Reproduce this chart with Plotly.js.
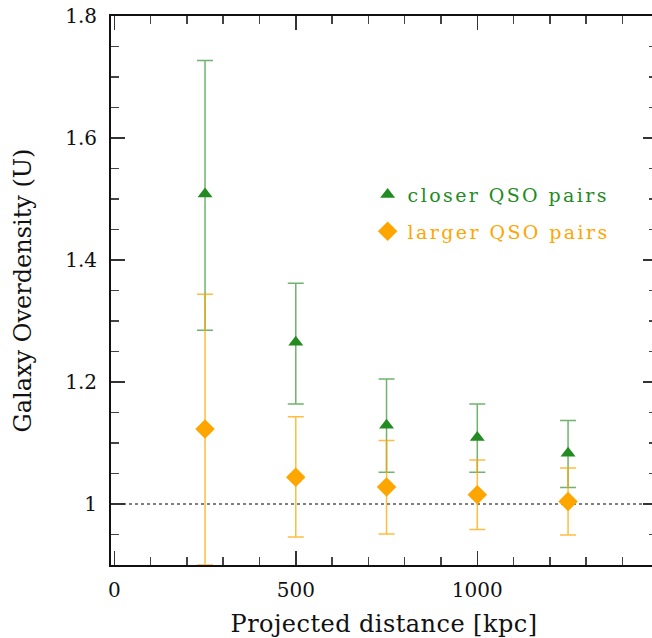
<!DOCTYPE html>
<html><head><meta charset="utf-8">
<script src="https://cdn.plot.ly/plotly-3.0.1.min.js"></script>
<style>html,body{margin:0;padding:0;overflow:hidden;background:#fff}#chart{width:662px;height:638px}
.legendtext{letter-spacing:2.4px}
.xtitle{letter-spacing:0.45px}</style>
</head><body><div id="chart"></div><script>
const distance = [250, 500, 750, 1000, 1250];
const closerU = [1.508, 1.265, 1.129, 1.109, 1.083];
const closerUpper = [1.727, 1.362, 1.205, 1.164, 1.137];
const closerLower = [1.285, 1.164, 1.052, 1.052, 1.027];
const largerU = [1.123, 1.044, 1.028, 1.015, 1.004];
const largerUpper = [1.344, 1.143, 1.104, 1.072, 1.059];
const largerLower = [0.9, 0.946, 0.951, 0.958, 0.949];
const xTickVals = [0, 500, 1000];
const xTickText = ['0', '500', '1000'];
const yTickVals = [1, 1.2, 1.4, 1.6, 1.8];
const yTickText = ['1', '1.2', '1.4', '1.6', '1.8'];
const names = ['closer QSO pairs', 'larger QSO pairs'];

const green = '#228B22', orange = '#FFA500';
const sub = (a, b) => a.map((v, i) => v - b[i]);

const traces = [
  {
    x: distance, y: closerU, type: 'scatter', mode: 'markers',
    name: '<span style="color:' + green + '">' + names[0] + '</span>',
    legendgroup: 'g1',
    marker: {symbol: 'triangle-up', size: 13, color: green},
    error_y: {type: 'data', symmetric: false, array: sub(closerUpper, closerU), arrayminus: sub(closerU, closerLower),
      color: 'rgba(34,139,34,0.65)', thickness: 1.5, width: 8}
  },
  {
    x: distance, y: largerU, type: 'scatter', mode: 'markers',
    name: '<span style="color:' + orange + '">' + names[1] + '</span>',
    legendgroup: 'g2',
    marker: {symbol: 'diamond', size: 15, color: orange},
    error_y: {type: 'data', symmetric: false, array: sub(largerUpper, largerU), arrayminus: sub(largerU, largerLower),
      color: 'rgba(255,165,0,0.75)', thickness: 1.5, width: 8}
  }
];

const axisCommon = {
  showline: true, linewidth: 2, linecolor: '#111', mirror: 'allticks',
  ticks: 'inside', ticklen: 14, tickwidth: 1.5, tickcolor: '#333',
  showgrid: false, zeroline: false, tickmode: 'array'
};

const layout = {
  width: 662, height: 638,
  margin: {l: 111, r: 5, t: 16, b: 73},
  paper_bgcolor: '#fff', plot_bgcolor: '#fff',
  font: {family: 'DejaVu Serif', size: 20, color: '#111'},
  showlegend: true,
  legend: {x: 0.47, y: 0.709, xanchor: 'left', yanchor: 'top', bgcolor: 'rgba(0,0,0,0)',
    font: {size: 19}, traceorder: 'grouped', tracegroupgap: 9},
  xaxis: Object.assign({}, axisCommon, {
    range: [-9, 1495], tickvals: xTickVals, ticktext: xTickText, ticklabelstandoff: 6,
    minor: {tickmode: 'linear', tick0: 0, dtick: 100, ticks: 'inside', ticklen: 8, tickwidth: 1.5, tickcolor: '#444', showgrid: false},
    title: {text: 'Projected distance [kpc]', standoff: 14}
  }),
  yaxis: Object.assign({}, axisCommon, {
    range: [0.9, 1.8], tickvals: yTickVals, ticktext: yTickText, ticklabelstandoff: 8,
    minor: {tickmode: 'linear', tick0: 0.9, dtick: 0.05, ticks: 'inside', ticklen: 8, tickwidth: 1.5, tickcolor: '#444', showgrid: false},
    title: {text: 'Galaxy Overdensity (U)', standoff: 27}
  }),
  shapes: [{type: 'line', xref: 'paper', x0: 0, x1: 1, yref: 'y', y0: 1, y1: 1, layer: 'below',
    line: {dash: 'dot', width: 1, color: '#000'}}]
};

Plotly.newPlot('chart', traces, layout, {displayModeBar: false, staticPlot: true});
</script></body></html>
